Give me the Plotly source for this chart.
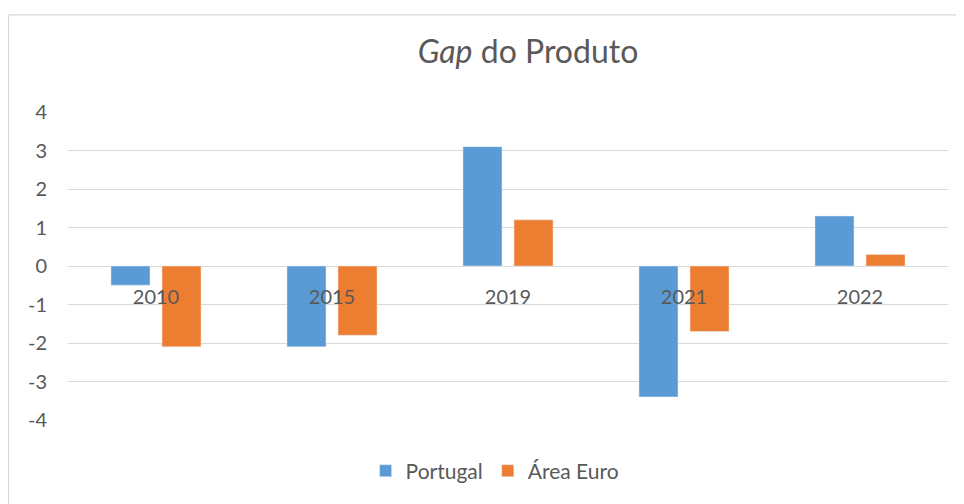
import plotly.graph_objects as go

categories = ["2010", "2015", "2019", "2021", "2022"]
portugal = [-0.5, -2.1, 3.1, -3.4, 1.3]
area_euro = [-2.1, -1.8, 1.2, -1.7, 0.3]
y_ticks = [-4, -3, -2, -1, 0, 1, 2, 3, 4]
y_tick_text = ["-4", "-3", "-2", "-1", "0", "1", "2", "3", "4"]

FONT = "Lato, 'Open Sans', sans-serif"
GREY = "#595959"

fig = go.Figure()
fig.add_trace(go.Bar(x=categories, y=portugal, name="Portugal", marker_color="#5B9BD5"))
fig.add_trace(go.Bar(x=categories, y=area_euro, name="Área Euro", marker_color="#ED7D31"))

# page has an 8px body margin; figure is offset by (8, 8)
OFF = 8
W, H = 964 - OFF, 504 - OFF
L, R, T, B = 68 - OFF, 16, 112 - OFF, 86 - OFF
pw = W - L - R
ph = H - T - B

fig.update_layout(
    width=W, height=H,
    margin=dict(l=L, r=R, t=T, b=B, pad=0),
    paper_bgcolor="white", plot_bgcolor="white",
    barmode="group", bargap=0.42, bargroupgap=0.235,
    font=dict(family=FONT, color=GREY, size=20),
    title=dict(text="<i>Gap</i> do Produto", x=(528 - OFF) / W, xanchor="center",
               y=1 - (52 - OFF) / H, yanchor="middle", font=dict(size=32, color=GREY, family=FONT)),
    showlegend=True,
    legend=dict(orientation="h", x=(472 - OFF) / W, xref="paper", xanchor="center",
                y=-(470 - 418) / ph, yanchor="middle", font=dict(size=21, color=GREY),
                traceorder="normal"),
    yaxis=dict(range=[-4, 4], tickvals=y_ticks, ticktext=y_tick_text, showgrid=True,
               gridcolor="#D9D9D9", gridwidth=1.3, zeroline=False, showline=False, ticks="",
               ticklabelstandoff=20, tickfont=dict(size=20, color=GREY)),
    xaxis=dict(anchor="free", position=0.5, showline=False, ticks="", showgrid=False,
               ticklabelstandoff=17, tickfont=dict(size=20, color=GREY)),
    shapes=[dict(type="rect", xref="paper", yref="paper",
                 x0=(0.5 - L) / pw, x1=(W + 20 - L) / pw,
                 y0=-(H + 20 - T - ph) / ph, y1=(H - 5 - B) / ph,
                 line=dict(color="#D9D9D9", width=1.3), fillcolor="rgba(0,0,0,0)")],
)

fig.write_html("out.html")
